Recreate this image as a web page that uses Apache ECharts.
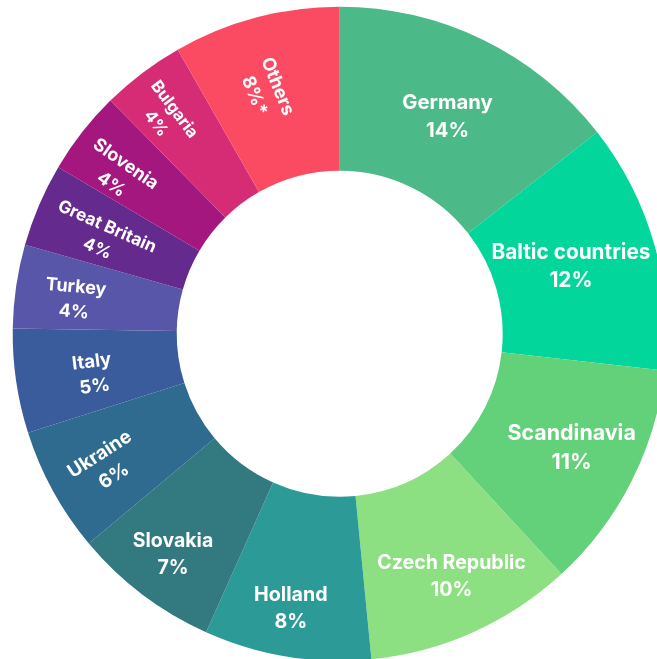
<!DOCTYPE html>
<html><head><meta charset="utf-8">
<script src="https://cdn.jsdelivr.net/npm/echarts@6/dist/echarts.min.js"></script>
<style>html,body{margin:0;padding:0;background:#fff;overflow:hidden}#c{width:657px;height:659px}</style>
</head><body><div id="c"></div>
<script>
// ---- data ----
const categories = ['Germany','Baltic countries','Scandinavia','Czech Republic','Holland','Slovakia','Ukraine','Italy','Turkey','Great Britain','Slovenia','Bulgaria','Others'];
const shares = [14,12,11,10,8,7,6,5,4,4,4,4,8];
const footnoteMarks = ['','','','','','','','','','','','','*'];

// ---- styling ----
const colors = ['#4BBA88','#02D69A','#63D07A','#8DE082','#2C9A96','#327A80','#2E6B8E','#3A5C9C','#5756A8','#652A8E','#A3177F','#D52C75','#FA4B63'];
const labelRotations = [0,0,0,0,0,0,33,7,-5,-24,-35,-53,-68];
const labelRadii = [238.8,237.8,255.8,264.4,276.3,273.9,264.4,246.8,264,253.2,269.6,275.7,250.6];
const labelAngleNudge = [0.5,-0.4,-0.6,-0.6,0.8,-0.1,-0.7,-1,-1,-1.2,-2.3,-1.7,-2.1];
const labelFontSizes = [20.3,20.8,21.4,19.6,19.7,19.5,19,18.5,18,17.3,18,16.6,18.3];
const innerR = 163, outerR = 327;
const midR = (innerR + outerR) / 2;

const total = shares.reduce((a, b) => a + b, 0);
let cum = 0;
const seriesData = categories.map((name, i) => {
  const mid = (cum + shares[i] / 2) / total * Math.PI * 2;
  cum += shares[i];
  const t = mid + labelAngleNudge[i] * Math.PI / 180;
  // desired label centre minus ECharts' default inside position
  const sx = labelRadii[i] * Math.sin(t) - midR * Math.sin(mid);
  const sy = -labelRadii[i] * Math.cos(t) + midR * Math.cos(mid);
  const r = labelRotations[i] * Math.PI / 180;
  // offset is applied in the label's rotated frame: undo the rotation
  const lx = sx * Math.cos(r) - sy * Math.sin(r);
  const ly = sx * Math.sin(r) + sy * Math.cos(r);
  return {
    name: name,
    value: shares[i],
    itemStyle: { color: colors[i] },
    label: {
      rotate: labelRotations[i],
      offset: [lx, ly],
      fontSize: labelFontSizes[i],
      lineHeight: Math.round(labelFontSizes[i] * 1.37)
    }
  };
});

const chart = echarts.init(document.getElementById('c'), null, { renderer: 'canvas' });
chart.setOption({
  animation: false,
  backgroundColor: '#ffffff',
  series: [{
    type: 'pie',
    center: [339.7, 333.7],
    radius: [innerR, outerR],
    startAngle: 90,
    clockwise: true,
    avoidLabelOverlap: false,
    itemStyle: { borderWidth: 0 },
    label: {
      show: true,
      position: 'inside',
      color: '#ffffff',
      fontFamily: 'Inter',
      fontWeight: 700,
      align: 'center',
      formatter: function (p) {
        return p.name + '\n' + p.value + '%' + footnoteMarks[p.dataIndex];
      }
    },
    labelLine: { show: false },
    emphasis: { disabled: true },
    data: seriesData
  }]
});
</script>
</body></html>
